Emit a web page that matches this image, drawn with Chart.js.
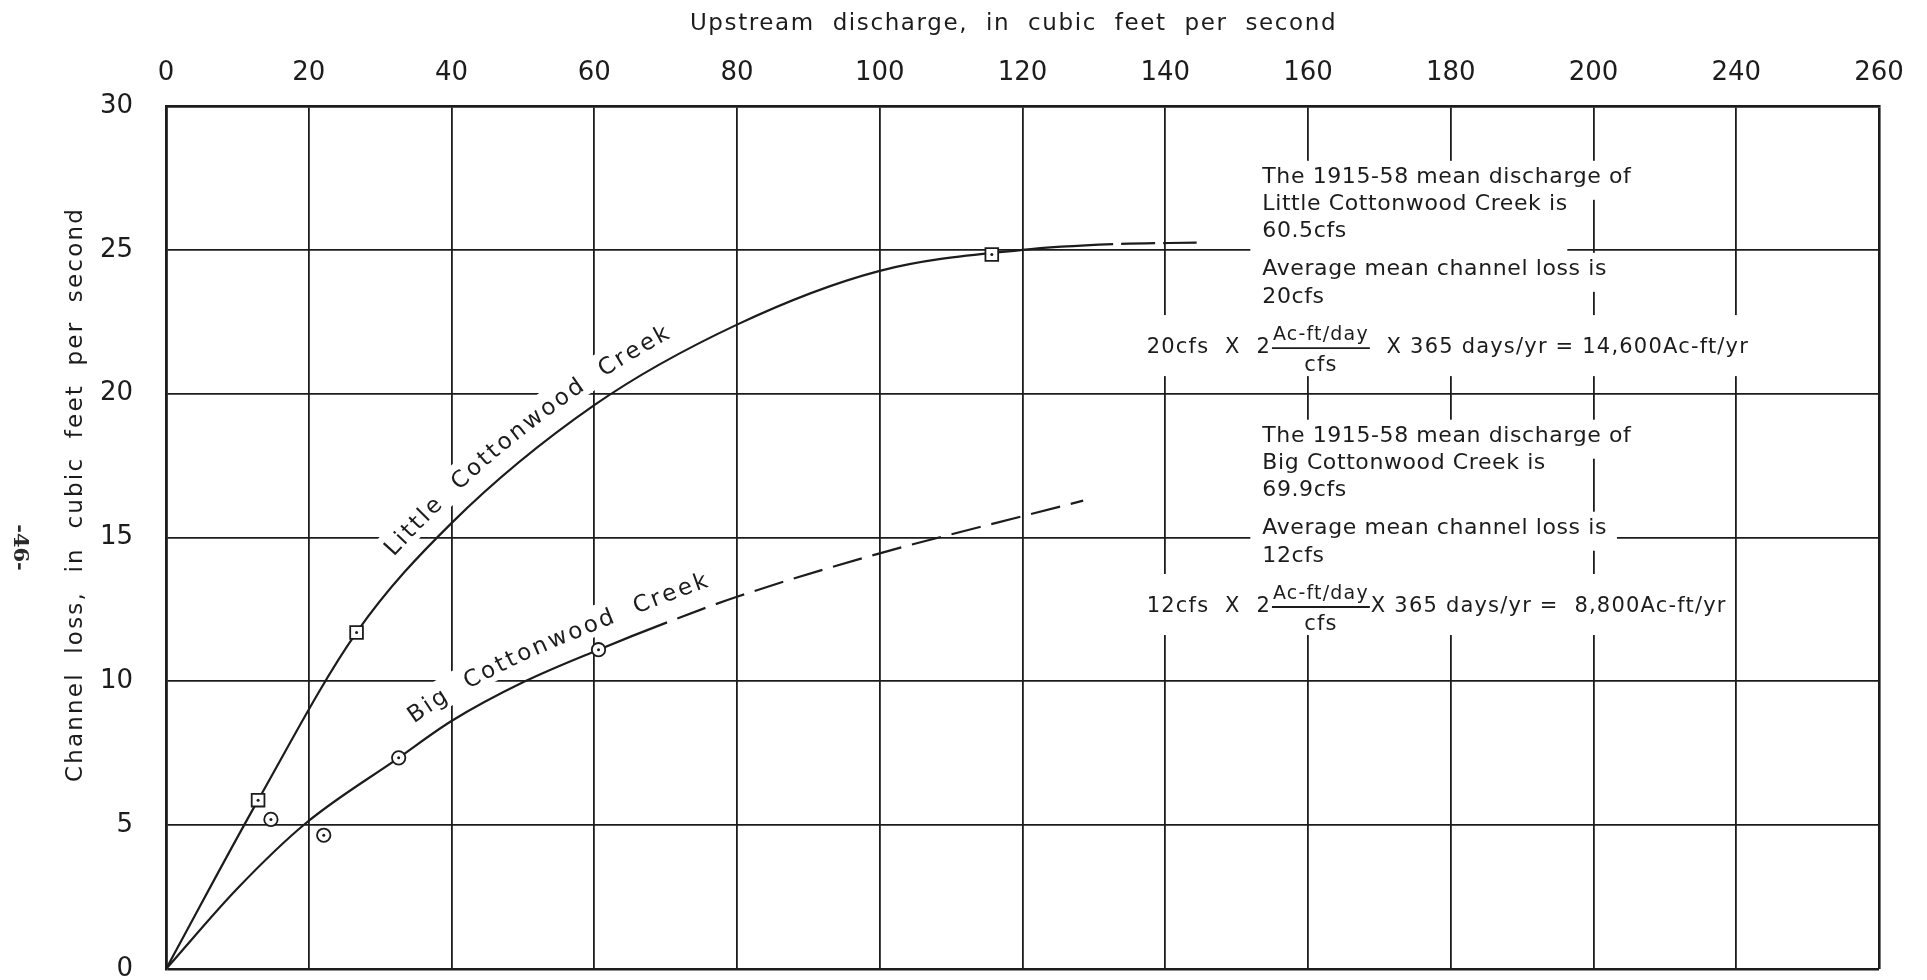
<!DOCTYPE html>
<html>
<head>
<meta charset="utf-8">
<title>Channel loss vs upstream discharge, Cottonwood Creeks</title>
<script src="https://cdn.jsdelivr.net/npm/chart.js@4.4.1/dist/chart.umd.min.js"></script>
<style>
  html, body { margin: 0; padding: 0; background: #ffffff; }
  #wrap { position: relative; width: 1927px; height: 980px; background: #ffffff; }
  canvas { display: block; width: 1927px; height: 980px; }
</style>
</head>
<body>
<div id="wrap"><canvas id="chart" width="1927" height="980"></canvas></div>
<script>
// ---- Scale ticks (the drafted scale skips 220: the last two gridlines read 240 and 260) ----
const xTickValues = [0, 20, 40, 60, 80, 100, 120, 140, 160, 180, 200, 220, 240];
const xTickLabels = ['0', '20', '40', '60', '80', '100', '120', '140', '160', '180', '200', '240', '260'];
const yTickValues = [0, 5, 10, 15, 20, 25, 30];

// ---- Little Cottonwood Creek ----
const littleObsX = [12.9, 26.7, 115.7];
const littleObsY = [5.87, 11.7, 24.84];
const littleCurveX = [0, 12.9, 26.7, 40, 60, 80, 100, 120, 132.7, 144.4];
const littleCurveY = [0, 5.87, 11.7, 15.5, 19.6, 22.4, 24.27, 25.0, 25.2, 25.25];
const littleExtrapolatedFrom = 132.7;

// ---- Big Cottonwood Creek ----
const bigObsX = [14.7, 22.1, 32.6, 60.6];
const bigObsY = [5.2, 4.65, 7.34, 11.1];
const bigCurveX = [0, 10, 19.5, 32.6, 40, 50.3, 60.6, 70.2, 80, 100, 120, 128.5];
const bigCurveY = [0, 2.8, 5.05, 7.34, 8.62, 10, 11.1, 12.05, 12.94, 14.45, 15.74, 16.28];
const bigExtrapolatedFrom = 70.2;

// ---- Text ----
const xTitle = 'Upstream discharge, in cubic feet per second';
const yTitle = 'Channel loss, in cubic feet per second';
const pageNumber = '-46-';
const littleLabel = 'Little  Cottonwood  Creek';
const bigLabel = 'Big  Cottonwood  Creek';
const littleNote = ['The 1915-58 mean discharge of', 'Little Cottonwood Creek is', '60.5cfs',
                    'Average mean channel loss is', '20cfs'];
const bigNote = ['The 1915-58 mean discharge of', 'Big Cottonwood Creek is', '69.9cfs',
                 'Average mean channel loss is', '12cfs'];
const littleFormula = ['20cfs  X  2', 'Ac-ft/day', 'cfs', '  X 365 days/yr = 14,600Ac-ft/yr'];
const bigFormula = ['12cfs  X  2', 'Ac-ft/day', 'cfs', 'X 365 days/yr =  8,800Ac-ft/yr'];

// ---- Layout and style ----
const INK = '#1c1c1c';
const FONT = '"DejaVu Sans", "Noto Sans", sans-serif';
const noteLeft = 153.6;          // cfs, left edge of the note blocks
const formulaLeft = 137.4;       // cfs, left edge of the formula rows
const littleNoteTop = 27.33;     // channel loss value at first baseline
const bigNoteTop = 18.33;
const noteLineOffsets = [0, 27, 54.5, 92, 120.3];
const formulaOffset = 170.3;

const pts = (xs, ys) => xs.map((x, i) => ({ x, y: ys[i] }));

// ---- curve sampling from the drawn bezier segments ----
function sampleCurve(chart, dsIndex) {
  const els = chart.getDatasetMeta(dsIndex).data;
  const out = [];
  for (let i = 0; i < els.length - 1; i++) {
    const a = els[i], b = els[i + 1];
    const c1x = a.cp2x ?? a.x, c1y = a.cp2y ?? a.y;
    const c2x = b.cp1x ?? b.x, c2y = b.cp1y ?? b.y;
    for (let k = 0; k < 30; k++) {
      const t = k / 30, u = 1 - t;
      out.push({
        x: u * u * u * a.x + 3 * u * u * t * c1x + 3 * u * t * t * c2x + t * t * t * b.x,
        y: u * u * u * a.y + 3 * u * u * t * c1y + 3 * u * t * t * c2y + t * t * t * b.y
      });
    }
  }
  const last = els[els.length - 1];
  out.push({ x: last.x, y: last.y });
  return out;
}

function offsetPath(samples, d) {
  const out = [];
  for (let i = 0; i < samples.length; i++) {
    const p0 = samples[Math.max(0, i - 1)], p1 = samples[Math.min(samples.length - 1, i + 1)];
    let tx = p1.x - p0.x, ty = p1.y - p0.y;
    const L = Math.hypot(tx, ty) || 1; tx /= L; ty /= L;
    out.push({ x: samples[i].x + ty * d, y: samples[i].y - tx * d });
  }
  let s = 0; out[0].s = 0;
  for (let i = 1; i < out.length; i++) {
    s += Math.hypot(out[i].x - out[i - 1].x, out[i].y - out[i - 1].y);
    out[i].s = s;
  }
  return out;
}

function pointAt(path, s) {
  let i = 1;
  while (i < path.length - 1 && path[i].s < s) i++;
  const p = path[i - 1], q = path[i];
  const t = Math.min(1, Math.max(0, (s - p.s) / Math.max(1e-6, q.s - p.s)));
  const j0 = Math.max(0, i - 6), j1 = Math.min(path.length - 1, i + 5);
  const a = Math.atan2(path[j1].y - path[j0].y, path[j1].x - path[j0].x);
  return { x: p.x + (q.x - p.x) * t, y: p.y + (q.y - p.y) * t, a };
}

// curve labels: [dataset index, text, start (cfs), offset px]
const curveLabels = [
  [2, littleLabel, 31.6, 18],
  [3, bigLabel, 34.6, 19]
];
const LABEL_SIZE = 23, LABEL_SPACING = 2.6;

function eachLabelChar(chart, fn) {
  const ctx = chart.ctx;
  ctx.save();
  ctx.font = LABEL_SIZE + 'px ' + FONT;
  ctx.letterSpacing = '0px';
  for (const [ds, text, startX, off] of curveLabels) {
    const path = offsetPath(sampleCurve(chart, ds), off);
    const startPx = chart.scales.x.getPixelForValue(startX);
    let i0 = path.findIndex(p => p.x >= startPx);
    if (i0 < 0) i0 = 0;
    let cursor = path[i0].s;
    for (const ch of text) {
      const w = ctx.measureText(ch).width;
      const p = pointAt(path, cursor + w / 2);
      fn(ctx, ch, w, p);
      cursor += w + LABEL_SPACING;
    }
  }
  ctx.restore();
}

// ---- note blocks ----
function noteGeometry(chart, lines, topValue, formula) {
  const ctx = chart.ctx;
  const xs = chart.scales.x, ys = chart.scales.y;
  const x0 = xs.getPixelForValue(noteLeft);
  const b0 = ys.getPixelForValue(topValue);
  ctx.save();
  ctx.font = '22px ' + FONT;
  ctx.letterSpacing = '0.6px';
  const rows = lines.map((t, i) => ({ t, x: x0, b: b0 + noteLineOffsets[i], w: ctx.measureText(t).width }));
  ctx.font = '21px ' + FONT;
  ctx.letterSpacing = '1.2px';
  const fx = xs.getPixelForValue(formulaLeft);
  const fb = b0 + formulaOffset;
  const preW = ctx.measureText(formula[0]).width;
  const denW = ctx.measureText(formula[2]).width;
  const postW = ctx.measureText(formula[3]).width;
  ctx.font = '19px ' + FONT;
  ctx.letterSpacing = '1.2px';
  const numW = ctx.measureText(formula[1]).width;
  ctx.restore();
  const barX = fx + preW + 1, barW = numW + 2;
  return { rows, fx, fb, preW, numW, denW, postW, barX, barW, end: barX + barW + 1 + postW };
}

const inkPlugin = {
  id: 'ink',
  beforeDatasetsDraw(chart) {
    const ctx = chart.ctx;
    ctx.save();
    ctx.fillStyle = '#ffffff';
    for (const [lines, top, formula] of [[littleNote, littleNoteTop, littleFormula], [bigNote, bigNoteTop, bigFormula]]) {
      const g = noteGeometry(chart, lines, top, formula);
      for (const r of g.rows) {
        ctx.fillRect(r.x - 12, r.b - 22, Math.max(r.w, 295) + 22, 39);
      }
      ctx.fillRect(g.fx - 8, g.fb - 38, g.end - g.fx + 16, 61);
    }
    ctx.restore();
    eachLabelChar(chart, (c, ch, w, p) => {
      c.save();
      c.translate(p.x, p.y);
      c.rotate(p.a);
      c.fillStyle = '#ffffff';
      c.fillRect(-w / 2 - LABEL_SPACING / 2 - 1, -LABEL_SIZE * 0.78 - 6, w + LABEL_SPACING + 2, LABEL_SIZE * 0.78 + 12);
      c.restore();
    });
  },
  afterDatasetsDraw(chart) {
    const ctx = chart.ctx;
    eachLabelChar(chart, (c, ch, w, p) => {
      c.save();
      c.translate(p.x, p.y);
      c.rotate(p.a);
      c.fillStyle = INK;
      c.textAlign = 'center';
      c.textBaseline = 'alphabetic';
      c.fillText(ch, 0, 0);
      c.restore();
    });
    for (const [lines, top, formula] of [[littleNote, littleNoteTop, littleFormula], [bigNote, bigNoteTop, bigFormula]]) {
      const g = noteGeometry(chart, lines, top, formula);
      ctx.save();
      ctx.fillStyle = INK;
      ctx.strokeStyle = INK;
      ctx.textAlign = 'left';
      ctx.textBaseline = 'alphabetic';
      ctx.font = '22px ' + FONT;
      ctx.letterSpacing = '0.6px';
      for (const r of g.rows) ctx.fillText(r.t, r.x, r.b);
      ctx.font = '21px ' + FONT;
      ctx.letterSpacing = '1.2px';
      ctx.fillText(formula[0], g.fx, g.fb);
      ctx.fillText(formula[3], g.barX + g.barW + 1, g.fb);
      ctx.textAlign = 'center';
      ctx.fillText(formula[2], g.barX + g.barW / 2, g.fb + 18);
      ctx.font = '19px ' + FONT;
      ctx.letterSpacing = '1.2px';
      ctx.textAlign = 'left';
      ctx.fillText(formula[1], g.barX + 1, g.fb - 13);
      ctx.lineWidth = 1.8;
      ctx.beginPath();
      ctx.moveTo(g.barX, g.fb - 5);
      ctx.lineTo(g.barX + g.barW, g.fb - 5);
      ctx.stroke();
      ctx.restore();
    }
  },
  afterDraw(chart) {
    const ctx = chart.ctx;
    const area = chart.chartArea;
    ctx.save();
    ctx.fillStyle = INK;
    ctx.font = '23px ' + FONT;
    ctx.letterSpacing = '1.6px';
    ctx.wordSpacing = '9px';
    ctx.textAlign = 'center';
    ctx.textBaseline = 'alphabetic';
    ctx.fillText(xTitle, (area.left + area.right) / 2 - 9, 30);
    ctx.save();
    ctx.translate(82, (area.top + area.bottom) / 2 - 43);
    ctx.rotate(-Math.PI / 2);
    ctx.letterSpacing = '2.2px';
    ctx.fillText(yTitle, 0, 0);
    ctx.restore();
    ctx.letterSpacing = '0px';
    ctx.wordSpacing = '0px';
    ctx.fillStyle = '#2a2a2a';
    ctx.font = 'bold 21px "DejaVu Serif", "Liberation Serif", serif';
    ctx.translate(19, (area.top + area.bottom) / 2 + 10);
    ctx.rotate(Math.PI / 2);
    ctx.textAlign = 'center';
    ctx.textBaseline = 'middle';
    ctx.fillText(pageNumber, 0, 0);
    ctx.restore();
  }
};

const edgeWidth = (ctx, lo, hi) => (ctx.tick && (ctx.tick.value === lo || ctx.tick.value === hi)) ? 2.6 : 1.8;

new Chart(document.getElementById('chart'), {
  type: 'scatter',
  data: {
    datasets: [
      { // 0: observation dots, Little
        data: pts(littleObsX, littleObsY), order: 0,
        pointStyle: 'circle', pointRadius: 1.5, backgroundColor: INK, borderWidth: 0
      },
      { // 1: observation dots, Big
        data: pts(bigObsX, bigObsY), order: 0,
        pointStyle: 'circle', pointRadius: 1.5, backgroundColor: INK, borderWidth: 0
      },
      { // 2: Little Cottonwood Creek curve (dashed where extended)
        data: pts(littleCurveX, littleCurveY), order: 3, showLine: true,
        pointRadius: 0, borderColor: INK, borderWidth: 2.2,
        cubicInterpolationMode: 'monotone',
        segment: {
          borderDash: c => c.p0.parsed.x >= littleExtrapolatedFrom - 1e-6 ? [34, 8] : undefined,
          borderDashOffset: c => c.p0.parsed.x >= littleExtrapolatedFrom - 1e-6 ? 34 : 0
        }
      },
      { // 3: Big Cottonwood Creek curve (dashed where extended)
        data: pts(bigCurveX, bigCurveY), order: 3, showLine: true,
        pointRadius: 0, borderColor: INK, borderWidth: 2.2,
        cubicInterpolationMode: 'monotone',
        segment: {
          borderDash: c => c.p0.parsed.x >= bigExtrapolatedFrom - 1e-6 ? [30, 11] : undefined,
          borderDashOffset: c => c.p0.parsed.x >= bigExtrapolatedFrom - 1e-6 ? 30 : 0
        }
      },
      { // 4: Little observation squares
        data: pts(littleObsX, littleObsY), order: 1,
        pointStyle: 'rect', pointRadius: 9, backgroundColor: '#ffffff', borderColor: INK, borderWidth: 1.8
      },
      { // 5: Big observation circles
        data: pts(bigObsX, bigObsY), order: 1,
        pointStyle: 'circle', pointRadius: 6.7, backgroundColor: '#ffffff', borderColor: INK, borderWidth: 1.8
      }
    ]
  },
  options: {
    responsive: false,
    maintainAspectRatio: false,
    animation: false,
    events: [],
    layout: { padding: { left: 0, top: 0, right: 48, bottom: 11 } },
    plugins: { legend: { display: false }, tooltip: { enabled: false } },
    scales: {
      x: {
        type: 'linear', position: 'top', min: 0, max: 240,
        afterBuildTicks: s => { s.ticks = xTickValues.map(v => ({ value: v })); },
        afterFit: s => { s.height = 106; },
        ticks: {
          autoSkip: false, maxRotation: 0, padding: 17, color: INK,
          font: { family: FONT, size: 26 },
          callback: v => xTickLabels[xTickValues.indexOf(v)]
        },
        grid: { color: INK, drawTicks: false, lineWidth: c => edgeWidth(c, 0, 240) },
        border: { display: true, color: INK, width: 2.6 },
        title: { display: false }
      },
      y: {
        type: 'linear', position: 'left', min: 0, max: 30,
        afterBuildTicks: s => { s.ticks = yTickValues.map(v => ({ value: v })); },
        afterFit: s => { s.width = 166; s.paddingTop = 0; s.paddingBottom = 0; },
        ticks: {
          autoSkip: false, padding: 33, color: INK,
          font: { family: FONT, size: 26 }
        },
        grid: { color: INK, drawTicks: false, lineWidth: c => edgeWidth(c, 0, 30) },
        border: { display: true, color: INK, width: 2.6 },
        title: { display: false }
      }
    }
  },
  plugins: [inkPlugin]
});
</script>
</body>
</html>
